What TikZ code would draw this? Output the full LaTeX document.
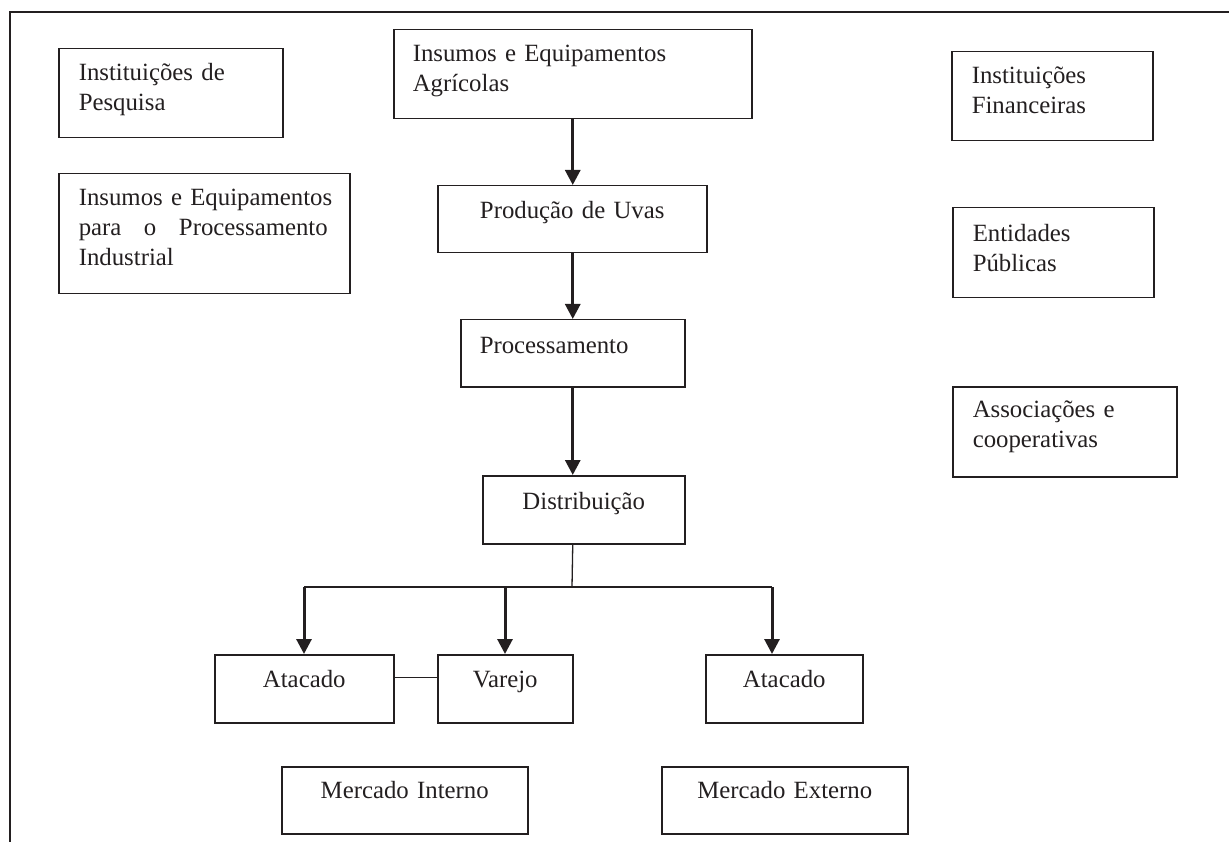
\documentclass[tikz,border=0pt]{standalone}
\usepackage{fontspec}
\setmainfont{Liberation Serif}
\usetikzlibrary{arrows.meta,calc}
\definecolor{ink}{HTML}{231F20}
\begin{document}
\begin{tikzpicture}[x=1pt,y=-1pt,
  every node/.style={font=\fontsize{24.8pt}{30pt}\selectfont, text=ink},
  boxl/.style={draw=ink, line width=1.5pt, anchor=north west, inner ysep=0pt, align=left},
  boxc/.style={draw=ink, line width=1.5pt, anchor=north west, inner ysep=0pt, inner xsep=0pt, align=center},
  thick arrow/.style={draw=ink, line width=3pt, -{Triangle[width=15pt,length=15pt]}},
  thin line/.style={draw=ink, line width=1.3pt}]
\useasboundingbox (0,0) rectangle (1229,842);
% outer frame
\coordinate (fbl) at (10,842);
\coordinate (ftl) at (10,12);
\coordinate (ftr) at (1229,12);
\draw[ink, line width=1.3pt] (fbl) -- (ftl) -- (ftr);
% left column
\node[boxl, inner xsep=20pt, text width=184pt, text height=32pt, text depth=57pt] (pesq) at (58,48)
  {Instituições de\\Pesquisa};
\node[boxl, inner xsep=20pt, text width=251pt, text height=32pt, text depth=88pt] (insproc) at (58,173)
  {\mbox{Insumos e Equipamentos}\\\leavevmode\hbox to 249pt{para\hfill o\hfill Processamento}\\Industrial};
% centre column
\node[boxl, inner xsep=19pt, text width=320pt, text height=32pt, text depth=57pt] (agri) at (393,29)
  {\mbox{Insumos e Equipamentos}\\Agrícolas};
\node[boxc, text width=269pt, text height=33pt, text depth=34pt] (prod) at (437,185)
  {Produção de Uvas};
\node[boxl, inner xsep=19pt, text width=186pt, text height=34pt, text depth=33pt] (proc) at (460,319)
  {Processamento};
\node[boxc, text width=202pt, text height=34pt, text depth=34pt] (dist) at (482,475)
  {Distribuição};
\node[boxc, text width=179pt, text height=33pt, text depth=35pt] (at1) at (214,654)
  {Atacado};
\node[boxc, text width=135pt, text height=33pt, text depth=35pt] (var) at (437,654)
  {Varejo};
\node[boxc, text width=157pt, text height=33pt, text depth=35pt] (at2) at (705,654)
  {Atacado};
\node[boxc, text width=246pt, text height=32pt, text depth=35pt] (mi) at (281,766)
  {Mercado Interno};
\node[boxc, text width=246pt, text height=32pt, text depth=35pt] (me) at (661,766)
  {Mercado Externo};
% right column
\node[boxl, inner xsep=20pt, text width=161pt, text height=32pt, text depth=57pt] (fin) at (951,51)
  {Instituições\\Financeiras};
\node[boxl, inner xsep=20pt, text width=161pt, text height=34pt, text depth=56pt] (ent) at (952,207)
  {Entidades\\Públicas};
\node[boxl, inner xsep=20pt, text width=184pt, text height=31pt, text depth=59pt] (assoc) at (952,386)
  {Associações e\\cooperativas};
% connectors
\draw[thick arrow] (agri.south) -- (agri.south |- prod.north);
\draw[thick arrow] (prod.south -| agri.south) -- (agri.south |- proc.north);
\draw[thick arrow] (proc.south) -- (proc.south |- dist.north);
\coordinate (bm) at (572,587);
\coordinate (b1) at (304,587);
\coordinate (b2) at (505,587);
\coordinate (b3) at (772,587);
\draw[thin line] (proc.south |- dist.south) -- (bm);
\draw[thin line] (b1) -- (b3);
\draw[thick arrow] (b1) -- (b1 |- at1.north);
\draw[thick arrow] (b2) -- (b2 |- var.north);
\draw[thick arrow] (b3) -- (b3 |- at2.north);
\draw[thin line] ([yshift=11pt]at1.east) -- ([yshift=11pt]var.west);
\end{tikzpicture}
\end{document}
